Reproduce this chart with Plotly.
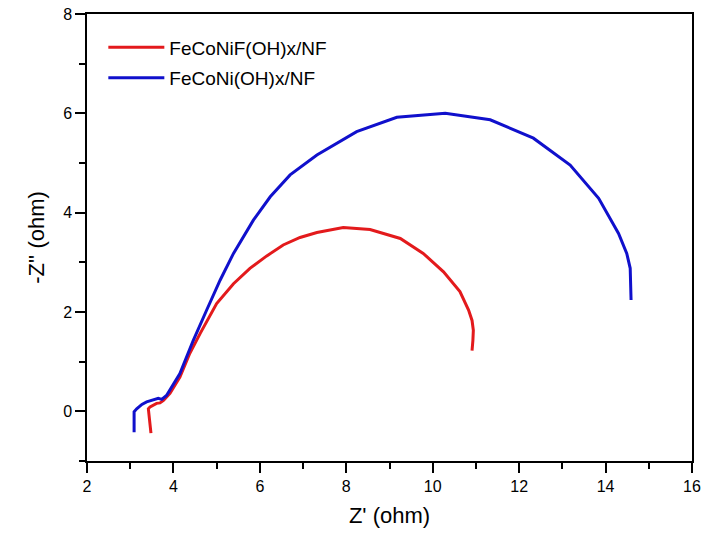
import plotly.graph_objects as go

# Nyquist data (Z' and -Z'' in ohm)
red_name = "FeCoNiF(OH)x/NF"
red_zre = [3.48, 3.42, 3.46, 3.53, 3.61, 3.69, 3.77, 3.92, 4.15, 4.38, 4.62, 5.00, 5.39, 5.77,
           6.16, 6.54, 6.93, 7.32, 7.93, 8.55, 9.25, 9.78, 10.25, 10.63, 10.83, 10.91, 10.94,
           10.93, 10.91]
red_zim = [-0.44, 0.05, 0.09, 0.12, 0.16, 0.17, 0.22, 0.36, 0.69, 1.17, 1.57, 2.17, 2.57, 2.88,
           3.13, 3.35, 3.50, 3.60, 3.70, 3.66, 3.48, 3.18, 2.81, 2.41, 2.04, 1.83, 1.63,
           1.43, 1.22]

blue_name = "FeCoNi(OH)x/NF"
blue_zre = [3.09, 3.09, 3.15, 3.27, 3.38, 3.50, 3.65, 3.73, 3.84, 4.15, 4.46, 4.77, 5.08, 5.39,
            5.85, 6.24, 6.70, 7.32, 8.24, 9.17, 10.29, 11.33, 12.33, 13.18, 13.84, 14.30,
            14.49, 14.57, 14.59, 14.59]
blue_zim = [-0.42, -0.01, 0.05, 0.14, 0.19, 0.22, 0.26, 0.24, 0.32, 0.76, 1.43, 2.04, 2.64, 3.18,
            3.85, 4.32, 4.76, 5.16, 5.63, 5.92, 6.00, 5.87, 5.50, 4.96, 4.29, 3.58,
            3.18, 2.88, 2.51, 2.24]

FONT = "Liberation Sans, Arial, sans-serif"

fig = go.Figure()
fig.add_trace(go.Scatter(x=red_zre, y=red_zim, name=red_name, mode="lines", legendgroup="a",
                         line=dict(color="#E31A1C", width=3)))
fig.add_trace(go.Scatter(x=blue_zre, y=blue_zim, name=blue_name, mode="lines", legendgroup="b",
                         line=dict(color="#1010CC", width=3)))

axis_common = dict(showgrid=False, zeroline=False, showline=True, linecolor="black",
                   linewidth=1.5, mirror=True, ticks="outside", ticklen=10, tickwidth=1.5,
                   tickcolor="black", ticklabeloverflow="allow", automargin=False,
                   tickfont=dict(size=16, color="black", family=FONT))
minor = dict(ticks="outside", ticklen=6, dtick=1, tickcolor="black", tickwidth=1.5)

fig.update_xaxes(range=[2, 16], dtick=2, minor=minor,
                 title=dict(text="Z' (ohm)", font=dict(size=22, color="black", family=FONT), standoff=14),
                 **axis_common)
fig.update_yaxes(range=[-1, 8], dtick=2, minor=minor,
                 title=dict(text="-Z'' (ohm)", font=dict(size=22, color="black", family=FONT), standoff=12),
                 **axis_common)

fig.update_layout(
    width=706, height=540,
    margin=dict(l=87, r=14, t=14, b=79, autoexpand=False),
    plot_bgcolor="white", paper_bgcolor="white",
    font=dict(family=FONT, color="black"),
    legend=dict(x=0.027, y=0.968, xanchor="left", yanchor="top", bgcolor="rgba(0,0,0,0)",
                font=dict(size=19, family=FONT, color="black"), itemwidth=56, tracegroupgap=3),
    showlegend=True,
)

# drop the default 8px body margin so the figure sits at the window's corner
fig.write_html("out.html", config={"displayModeBar": False},
               post_script="document.body.style.margin='0';")
